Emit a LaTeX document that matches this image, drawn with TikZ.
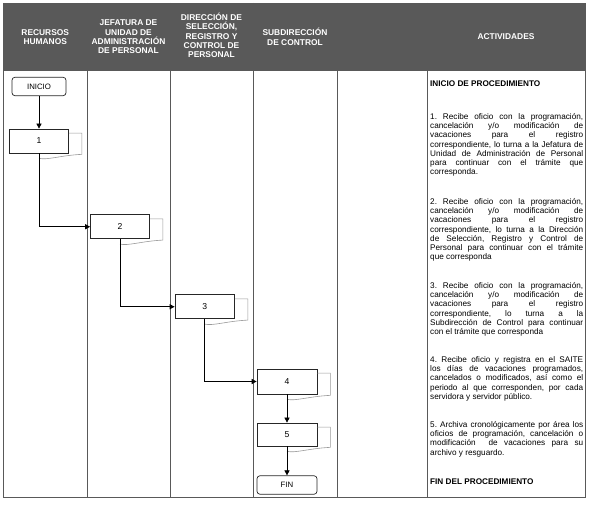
\documentclass[tikz,border=0pt]{standalone}
\usepackage{fontspec}
\setmainfont{Liberation Sans}
\usetikzlibrary{arrows.meta}
\newcommand\doctab[1]{\draw[tabline] ([yshift=-4.5pt]#1.north east) -- ([xshift=13pt,yshift=-4.5pt]#1.north east) -- ([xshift=13pt,yshift=-1pt]#1.south east) .. controls ([xshift=-8pt,yshift=-2pt]#1.south east) and ([xshift=8pt,yshift=-7pt]#1.south) .. ([yshift=-5pt]#1.south);}
\newcommand\actsetup{\frenchspacing\tolerance=10000\hbadness=10000\hyphenpenalty=10000\relax}
\begin{document}
\begin{tikzpicture}[x=1pt,y=-1pt,
  hdr/.style={text=white,font=\fontsize{8.4}{9.4}\selectfont\bfseries,align=center,inner sep=0pt},
  act/.style={anchor=base west,text width=153pt,align=justify,inner sep=0pt,font=\fontsize{8.2}{9.2}\selectfont},
  proc/.style={draw=black!85,line width=0.7pt,minimum width=59pt,minimum height=24pt,inner sep=0pt,font=\fontsize{8.6}{9}\selectfont},
  term/.style={draw=black!85,line width=0.7pt,rounded corners=3pt,minimum width=54pt,minimum height=18.5pt,inner sep=0pt,font=\fontsize{7.8}{8}\selectfont},
  flow/.style={draw=black,line width=0.7pt,-{Triangle[length=5pt,width=5pt]}},
  tabline/.style={draw=black!40,line width=0.6pt},
  gridline/.style={draw=black!65,line width=0.8pt}]
\useasboundingbox (0,0) rectangle (590,505);
% header
\fill[black!65] (3.5,3) rectangle (585,70);
\draw[gridline] (3.5,3) rectangle (585,497);
\draw[gridline] (3.5,70) -- (585,70);
\foreach \x in {87,170,253,337,427} \draw[gridline] (\x,3) -- (\x,497);
\node[hdr] (h1) at (45.25,37) {RECURSOS\\HUMANOS};
\node[hdr] (h2) at (128.5,37) {JEFATURA DE\\UNIDAD DE\\ADMINISTRACIÓN\\DE PERSONAL};
\node[hdr] (h3) at (211.5,35.5) {DIRECCIÓN DE\\SELECCIÓN,\\REGISTRO Y\\CONTROL DE\\PERSONAL};
\node[hdr] (h4) at (295,37) {SUBDIRECCIÓN\\DE CONTROL};
\node[hdr] (h6) at (506,37) {ACTIVIDADES};
% activities
\node[act] (a0) at (430,86.5) {\bfseries INICIO DE PROCEDIMIENTO};
\node[act] (a1) at (430,119.5) {\actsetup 1. Recibe oficio con la programación,\linebreak cancelación y/o modificación de\linebreak vacaciones para el registro\linebreak correspondiente, lo turna a la Jefatura de\linebreak Unidad de Administración de Personal\linebreak para continuar con el trámite que\linebreak corresponda.};
\node[act] (a2) at (430,204.5) {\actsetup 2. Recibe oficio con la programación,\linebreak cancelación y/o modificación de\linebreak vacaciones para el registro\linebreak correspondiente, lo turna a la Dirección\linebreak de Selección, Registro y Control de\linebreak Personal para continuar con el trámite\linebreak que corresponda};
\node[act] (a3) at (430,288.5) {\actsetup 3. Recibe oficio con la programación,\linebreak cancelación y/o modificación de\linebreak vacaciones para el registro\linebreak correspondiente, lo turna a la\linebreak Subdirección de Control para continuar\linebreak con el trámite que corresponda};
\node[act] (a4) at (430,362.5) {\actsetup 4. Recibe oficio y registra en el SAITE\linebreak los días de vacaciones programados,\linebreak cancelados o modificados, así como el\linebreak periodo al que corresponden, por cada\linebreak servidora y servidor público.};
\node[act] (a5) at (430,427.5) {\actsetup 5. Archiva cronológicamente por área los\linebreak oficios de programación, cancelación o\linebreak modificación\ \ de vacaciones para su\linebreak archivo y resguardo.};
\node[act] (a6) at (430,484.5) {\bfseries FIN DEL PROCEDIMIENTO};
% flow
\node[term] (ini) at (39,86.5) {INICIO};
\node[proc] (b1) at (39,141) {1};
\node[proc] (b2) at (120,226.75) {2};
\node[proc,minimum width=59.5pt] (b3) at (204.75,306.75) {3};
\node[proc,minimum width=60pt,minimum height=25pt] (b4) at (287,381.5) {4};
\node[proc,minimum width=60pt,minimum height=23pt] (b5) at (287,434.5) {5};
\node[term,minimum width=60pt] (fin) at (287,485) {FIN};
\doctab{b1}
\doctab{b2}
\doctab{b3}
\doctab{b4}
\doctab{b5}
\draw[flow] (ini) -- (b1);
\draw[flow] (b1.south) |- (b2.west);
\draw[flow] (b2.south) |- (b3.west);
\draw[flow] (b3.south) |- (b4.west);
\draw[flow] (b4) -- (b5);
\draw[flow] (b5) -- (fin);
\end{tikzpicture}
\end{document}
